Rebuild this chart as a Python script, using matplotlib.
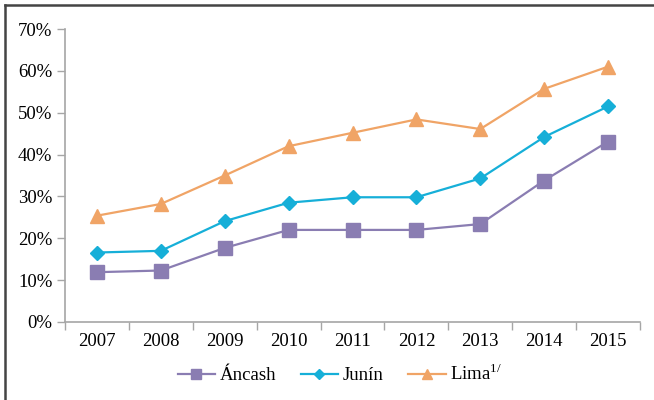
import matplotlib
matplotlib.use("Agg")
import matplotlib.pyplot as plt
from matplotlib.lines import Line2D
from matplotlib.ticker import FuncFormatter

# ─── Data ──────────────────────────────────────────────────────────────────
years = ["2007", "2008", "2009", "2010", "2011", "2012", "2013", "2014", "2015"]
ancash = [11.9, 12.3, 17.7, 22.0, 22.0, 22.0, 23.4, 33.8, 43.1]
junin = [16.6, 17.0, 24.1, 28.5, 29.8, 29.8, 34.3, 44.2, 51.5]
lima = [25.4, 28.2, 35.0, 42.0, 45.2, 48.4, 46.1, 55.7, 61.0]
series_labels = ["Áncash", "Junín", "Lima$^{\\mathregular{1/}}$"]

PURPLE = "#8A7DB2"
CYAN = "#16AFD8"
ORANGE = "#F0A466"

plt.rcParams["font.family"] = ["Liberation Serif", "DejaVu Serif"]
plt.rcParams["mathtext.fontset"] = "custom"
plt.rcParams["mathtext.rm"] = "Liberation Serif"

fig = plt.figure(figsize=(6.54, 4.0), dpi=100)
ax = fig.add_axes([65 / 654, 1 - 322 / 400, 575 / 654, 293 / 400])

x = list(range(len(years)))
ax.plot(x, ancash, color=PURPLE, lw=1.6, marker="s", ms=10.5, mec=PURPLE,
        label=series_labels[0])
ax.plot(x, junin, color=CYAN, lw=1.6, marker="D", ms=7, mec=CYAN,
        label=series_labels[1])
ax.plot(x, lima, color=ORANGE, lw=1.6, marker="^", ms=10.5, mec=ORANGE,
        label=series_labels[2])

ax.set_xlim(-0.5, len(years) - 0.5)
ax.set_ylim(0, 70)
ax.set_yticks(range(0, 71, 10))
ax.yaxis.set_major_formatter(FuncFormatter(lambda v, p: f"{v:.0f}%"))
ax.set_xticks(x)
ax.set_xticklabels(years)
ax.set_xticks([i - 0.5 for i in range(len(years) + 1)], minor=True)
ax.tick_params(axis="x", which="major", length=0, pad=8, labelsize=13.5)
ax.tick_params(axis="x", which="minor", length=6, color="#A6A6A6", width=1)
ax.tick_params(axis="y", length=6, color="#A6A6A6", width=1, labelsize=13.5, pad=3)

for side in ("top", "right"):
    ax.spines[side].set_visible(False)
for side in ("left", "bottom"):
    ax.spines[side].set_color("#A6A6A6")
    ax.spines[side].set_linewidth(1.2)

handles = [
    Line2D([], [], color=PURPLE, lw=1.6, marker="s", ms=7),
    Line2D([], [], color=CYAN, lw=1.6, marker="D", ms=5),
    Line2D([], [], color=ORANGE, lw=1.6, marker="^", ms=7),
]
fig.legend(handles, series_labels, loc="center", bbox_to_anchor=(340 / 654, 1 - 374 / 400),
           ncol=3, frameon=False, fontsize=13.5, handlelength=2.0, columnspacing=1.3,
           handletextpad=0.25)

# outer frame (left and top only)
fig.add_artist(Line2D([4.5 / 654, 4.5 / 654], [0, 1 - 5 / 400], color="#444444", lw=1.8))
fig.add_artist(Line2D([4.5 / 654, 1], [1 - 5 / 400, 1 - 5 / 400], color="#444444", lw=1.8))

fig.savefig("out.png", dpi=100)
